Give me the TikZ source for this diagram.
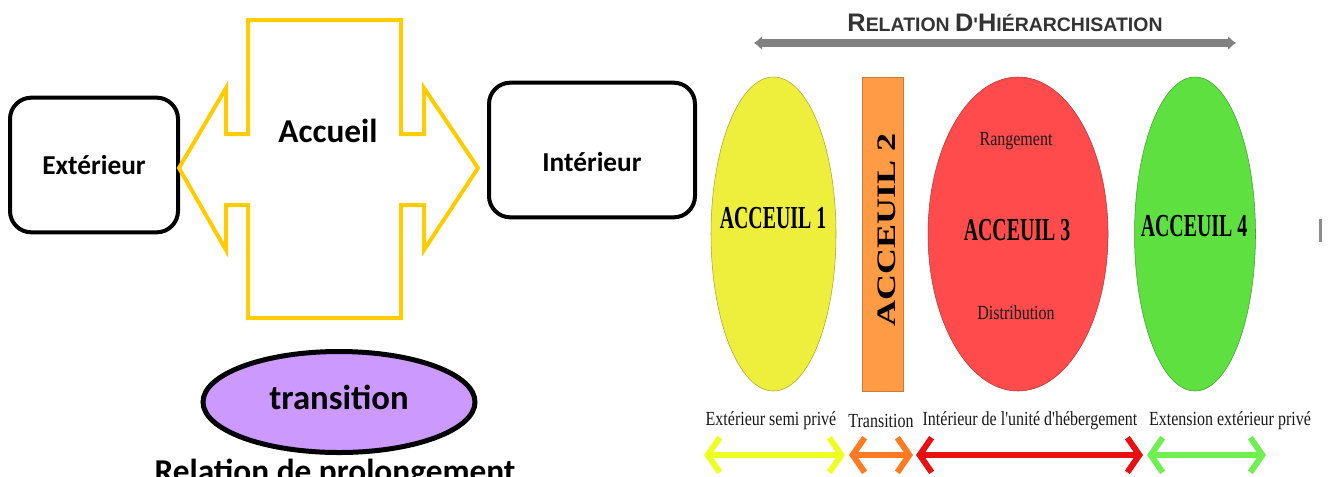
\documentclass[tikz,border=0pt]{standalone}
\usepackage{fontspec}
\setmainfont{Carlito}
\newfontfamily\accfont[FakeStretch=0.62]{Liberation Serif}
\newfontfamily\accwide[FakeStretch=1.35]{Liberation Serif}
\newfontfamily\notefont[FakeStretch=0.8]{Liberation Serif}
\newfontfamily\titlefont{Liberation Sans}
\usetikzlibrary{shapes.geometric,arrows.meta}

\definecolor{crossyellow}{HTML}{FFCC00}
\definecolor{lilac}{HTML}{CC99FF}
\definecolor{zoneyellow}{HTML}{EEEE3C}
\definecolor{zoneorange}{HTML}{FF9A45}
\definecolor{zonered}{HTML}{FF4B4B}
\definecolor{zonegreen}{HTML}{5DE040}
\definecolor{spanyellow}{HTML}{EEFF22}
\definecolor{spanorange}{HTML}{FF7A22}
\definecolor{spanred}{HTML}{E81010}
\definecolor{spangreen}{HTML}{70F050}

% big letters of the title
\newcommand{\tcap}[1]{{\fontsize{19}{20}\selectfont #1}}

\begin{document}
\begin{tikzpicture}[x=0.75pt,y=-0.75pt,
  box/.style={draw, line width=3pt, rounded corners=16pt, minimum height=101pt,
    font=\bfseries\fontsize{20.5}{24}\selectfont},
  zone/.style={ellipse, inner sep=0pt, minimum height=235.5pt, draw=#1!70!black, fill=#1},
  acc/.style={font=\accfont\bfseries\fontsize{24}{26}\selectfont},
  note/.style={font=\notefont\fontsize{15}{16}\selectfont, text=black!90},
  span/.style={line width=4.5pt, {Straight Barb[length=9pt,width=26pt]}-{Straight Barb[length=9pt,width=26pt]}}]

  % page, 1 unit = 1 pixel of the reference
  \useasboundingbox (0,0) rectangle (1330,476);

  % ---- relation de prolongement (left half)
  \node[box, minimum width=126pt] (exterieur) at (94,165) {Extérieur};
  \node[box, minimum width=154.5pt,
    label={[font=\bfseries\fontsize{20.5}{24}\selectfont, yshift=-9pt]center:Intérieur}]
    (interieur) at (592,150) {};

  % the yellow cross of arrows
  \draw[crossyellow, line width=3pt]
    (248,20) -- (401,20) -- (401,134) -- (424,134) -- (424,88) -- (478,168)
    -- (424,250) -- (424,205) -- (401,205) -- (401,318) -- (248,318)
    -- (248,205) -- (226,205) -- (226,250) -- (179,168) -- (226,88)
    -- (226,134) -- (248,134) -- cycle;
  \node[font=\bfseries\fontsize{25}{28}\selectfont] (accueil) at (328,131) {Accueil};

  \node[ellipse, draw, line width=3.75pt, fill=lilac, inner sep=0pt,
    minimum width=204pt, minimum height=75.75pt] (transition) at (339,402) {};
  \node[font=\bfseries\fontsize{26}{28}\selectfont] (transtext) at (339,397) {transition};

  \node[font=\bfseries\fontsize{25}{28}\selectfont, anchor=base] (prolong) at (335,482)
    {Relation de prolongement};

  % ---- relation d'hierarchisation (right half)
  \node[font=\titlefont\bfseries\fontsize{14.6}{16}\selectfont, text=black!80] (titre) at (1005,23)
    {\tcap{R}ELATION \tcap{D}'\tcap{H}IÉRARCHISATION};
  \coordinate (gl) at (754,43);
  \coordinate (gr) at (1236,43);
  \draw[black!50, line width=6pt, {Latex[length=6pt,width=11pt]}-{Latex[length=6pt,width=11pt]}] (gl) -- (gr);

  \node[zone=zoneyellow, minimum width=93.75pt] (zone1) at (773.5,234) {};
  \node[draw=zoneorange!80!black, fill=zoneorange, inner sep=0pt,
    minimum width=30.75pt, minimum height=235.5pt] (zone2) at (882.5,234) {};
  \node[zone=zonered, minimum width=135pt] (zone3) at (1018,234) {};
  \node[zone=zonegreen, minimum width=90.75pt] (zone4) at (1195,234) {};

  \node[acc] (acc1) at (773,218) {ACCEUIL 1};
  \node[font=\accwide\bfseries\fontsize{20}{22}\selectfont, rotate=90] (acc2) at (887,230) {ACCEUIL 2};
  \node[acc] (acc3) at (1017,230) {ACCEUIL 3};
  \node[acc] (acc4) at (1194,226) {ACCEUIL 4};
  \node[note] (rang) at (1016,141) {Rangement};
  \node[note] (distri) at (1016,313) {Distribution};

  % labels of the spans
  \node[note] (lab1) at (771,421) {Extérieur semi privé};
  \node[note] (lab2) at (881,421) {Transition};
  \node[note] (lab3) at (1030,421) {Intérieur de l'unité d'hébergement};
  \node[note] (lab4) at (1230,421) {Extension extérieur privé};

  % double arrows under the zones
  \foreach \i/\xa/\xb/\col in {1/704/845/spanyellow, 2/849/913/spanorange,
                               3/916/1143/spanred, 4/1147/1266/spangreen} {
    \coordinate (l\i) at (\xa,455);
    \coordinate (r\i) at (\xb,455);
    \draw[span, draw=\col] (l\i) -- (r\i);
  }

  % scrap of the cut-off image on the right edge
  \fill[black!45] (1319,219) rectangle (1322,242);

\end{tikzpicture}
\end{document}
